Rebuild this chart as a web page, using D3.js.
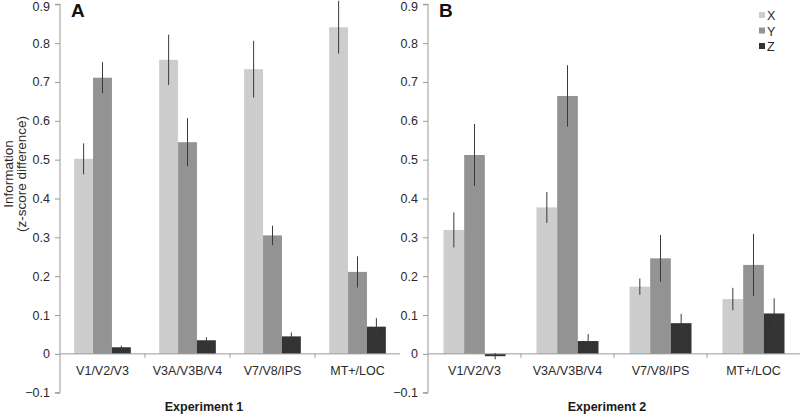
<!DOCTYPE html>
<html>
<head>
<meta charset="utf-8">
<script src="https://cdn.jsdelivr.net/npm/d3@7"></script>
<style>
html,body{margin:0;padding:0;background:#fff;}
svg{display:block;font-family:"Liberation Sans",Arial,Helvetica,sans-serif;}
</style>
</head>
<body>
<svg id="chart" width="800" height="417"></svg>
<script>
const categories = ["V1/V2/V3", "V3A/V3B/V4", "V7/V8/IPS", "MT+/LOC"];
const seriesNames = ["X", "Y", "Z"];
const colors = ["#cdcdcd", "#939393", "#333333"];
const yTicks = [-0.1, 0, 0.1, 0.2, 0.3, 0.4, 0.5, 0.6, 0.7, 0.8, 0.9];

// Experiment 1 (panel A)
const exp1X = [0.502, 0.757, 0.733, 0.841];
const exp1Y = [0.711, 0.545, 0.305, 0.211];
const exp1Z = [0.017, 0.035, 0.045, 0.070];
const exp1XErr = [0.040, 0.065, 0.073, 0.068];
const exp1YErr = [0.040, 0.062, 0.025, 0.040];
const exp1ZErr = [0.004, 0.008, 0.010, 0.022];

// Experiment 2 (panel B)
const exp2X = [0.319, 0.377, 0.173, 0.141];
const exp2Y = [0.512, 0.664, 0.246, 0.229];
const exp2Z = [-0.006, 0.033, 0.079, 0.104];
const exp2XErr = [0.045, 0.040, 0.021, 0.029];
const exp2YErr = [0.080, 0.079, 0.060, 0.080];
const exp2ZErr = [0.008, 0.018, 0.024, 0.039];

const svg = d3.select("#chart");
const y = d3.scaleLinear().domain([-0.1, 0.9]).range([392.7, 4.3]);
const axisColor = "#9a9a9a";
const textColor = "#2a2a2a";

function panel(opts) {
  const {x0, x1, vals, errs, letter, letterX, title, titleX} = opts;
  const g = svg.append("g");
  const x = d3.scaleBand().domain(categories).range([x0, x1]).padding(0);
  const xs = d3.scaleBand().domain(seriesNames).range([0, x.bandwidth()]).paddingInner(0).paddingOuter(0.75);

  // y axis
  const yAxis = d3.axisLeft(y).tickValues(yTicks).tickSize(5).tickPadding(5)
    .tickFormat(d => d === 0 ? "0" : d3.format(".1f")(d));
  const ya = g.append("g").attr("transform", `translate(${x0},0)`).call(yAxis);
  ya.select(".domain").attr("stroke", axisColor).attr("d", `M-5,${y(-0.1)}H0V${y(0.9)}H-5`);
  ya.selectAll(".tick line").attr("stroke", axisColor);
  ya.selectAll(".tick text").attr("fill", textColor).style("font-size", "12.5px")
    .style("font-family", "Liberation Sans, Arial, sans-serif")
    .attr("dy", d => d === 0.9 ? "0.48em" : "0.32em");

  // bars
  const data = [];
  categories.forEach((c, i) => {
    seriesNames.forEach((s, j) => {
      data.push({c, s, j, v: vals[j][i], e: errs[j][i]});
    });
  });
  g.selectAll("rect.bar").data(data).enter().append("rect")
    .attr("class", "bar")
    .attr("x", d => x(d.c) + xs(d.s))
    .attr("width", xs.bandwidth())
    .attr("y", d => y(Math.max(0, d.v)))
    .attr("height", d => Math.abs(y(d.v) - y(0)))
    .attr("fill", d => colors[d.j]);

  // x axis
  const xa = g.append("g").attr("transform", `translate(0,${y(0)})`)
    .call(d3.axisBottom(x).tickSize(0).tickPadding(12));
  xa.select(".domain").attr("stroke", axisColor).attr("d", `M${x0},0H${x1}`);
  xa.selectAll(".tick text").attr("fill", textColor).style("font-size", "12.5px")
    .style("font-family", "Liberation Sans, Arial, sans-serif");
  g.selectAll("line.xtick").data(categories.slice(1)).enter().append("line")
    .attr("class", "xtick")
    .attr("x1", d => x(d)).attr("x2", d => x(d))
    .attr("y1", y(0)).attr("y2", y(0) + 4)
    .attr("stroke", axisColor);

  // error bars
  g.selectAll("line.err").data(data).enter().append("line")
    .attr("class", "err")
    .attr("x1", d => x(d.c) + xs(d.s) + xs.bandwidth() / 2)
    .attr("x2", d => x(d.c) + xs(d.s) + xs.bandwidth() / 2)
    .attr("y1", d => y(d.v + d.e))
    .attr("y2", d => y(d.v - d.e))
    .attr("stroke", "#3a3a3a").attr("stroke-width", 1);

  g.append("text").attr("x", letterX).attr("y", 17)
    .attr("font-weight", "bold").attr("font-size", "19px").attr("fill", "#111")
    .text(letter);
  g.append("text").attr("x", titleX).attr("y", 411)
    .attr("text-anchor", "middle").attr("font-weight", "bold")
    .attr("font-size", "12.5px").attr("fill", "#1a1a1a").text(title);
}

panel({x0: 60, x1: 400, vals: [exp1X, exp1Y, exp1Z], errs: [exp1XErr, exp1YErr, exp1ZErr],
  letter: "A", letterX: 71, title: "Experiment 1", titleX: 204});
panel({x0: 428, x1: 800, vals: [exp2X, exp2Y, exp2Z], errs: [exp2XErr, exp2YErr, exp2ZErr],
  letter: "B", letterX: 439, title: "Experiment 2", titleX: 607});

// y axis title
const yt = svg.append("text")
  .attr("transform", "translate(0,174) rotate(-90)")
  .attr("text-anchor", "middle").attr("font-size", "13.5px").attr("fill", textColor);
yt.append("tspan").attr("x", 0).attr("y", 13).text("Information");
yt.append("tspan").attr("x", 0).attr("y", 26).text("(z-score difference)");

// legend
const lg = svg.append("g");
seriesNames.forEach((s, i) => {
  lg.append("rect").attr("x", 759).attr("y", 12 + i * 15.5).attr("width", 6).attr("height", 6)
    .attr("fill", colors[i]);
  lg.append("text").attr("x", 767).attr("y", 20 + i * 15.5)
    .attr("font-size", "12.5px").attr("fill", textColor).text(s);
});
</script>
</body>
</html>
